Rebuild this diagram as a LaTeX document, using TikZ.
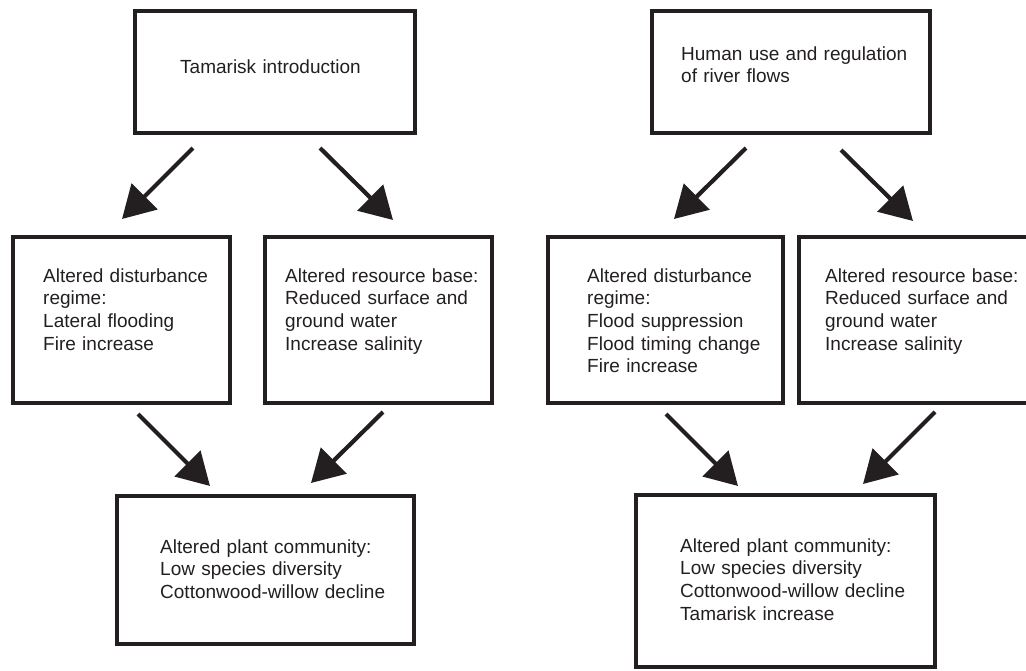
\documentclass[tikz,border=0pt]{standalone}
\usepackage{fontspec}
\setmainfont{Liberation Sans}
\usetikzlibrary{arrows.meta}
\definecolor{ink}{RGB}{35,31,32}
\begin{document}
\begin{tikzpicture}[x=1pt,y=-1pt,
  box/.style={draw=ink,line width=4pt,rectangle,inner sep=0pt},
  txt/.style={text=ink,anchor=base west,inner sep=0pt,align=left,text width=320pt,
    font=\fontsize{19}{22.7}\selectfont},
  arr/.style={draw=ink,line width=4.2pt,-{Triangle[length=32pt,width=36pt]}}]
\useasboundingbox (0,0) rectangle (1026,670);
% left diagram boxes
\node[box,minimum width=280pt,minimum height=122pt] (A) at (275,72) {};
\node[box,minimum width=217pt,minimum height=166pt] (B) at (121.5,320) {};
\node[box,minimum width=227pt,minimum height=166pt] (C) at (378.5,320) {};
\node[box,minimum width=297pt,minimum height=148pt] (D) at (265.5,570) {};
% right diagram boxes
\node[box,minimum width=278pt,minimum height=122pt] (E) at (791,72) {};
\node[box,minimum width=235pt,minimum height=166pt] (F) at (665.5,320) {};
\node[box,minimum width=241pt,minimum height=166pt] (G) at (919.5,320) {};
\node[box,minimum width=299pt,minimum height=172pt] (H) at (785.5,581) {};
% texts
\node[txt] (tA) at (180,73) {Tamarisk introduction};
\node[txt] (tB) at (43,282) {Altered disturbance\\regime:\\Lateral flooding\\Fire increase};
\node[txt] (tC) at (285,282) {Altered resource base:\\Reduced surface and\\ground water\\Increase salinity};
\node[txt] (tD) at (160,553) {Altered plant community:\\Low species diversity\\Cottonwood-willow decline};
\node[txt] (tE) at (681,60) {Human use and regulation\\of river flows};
\node[txt] (tF) at (587,282) {Altered disturbance\\regime:\\Flood suppression\\Flood timing change\\Fire increase};
\node[txt] (tG) at (825,282) {Altered resource base:\\Reduced surface and\\ground water\\Increase salinity};
\node[txt] (tH) at (680,552) {Altered plant community:\\Low species diversity\\Cottonwood-willow decline\\Tamarisk increase};
% arrow end points
\coordinate (a1s) at (193,148); \coordinate (a1e) at (122,219);
\coordinate (a2s) at (320,148); \coordinate (a2e) at (393,220);
\coordinate (a3s) at (746,148); \coordinate (a3e) at (674,219);
\coordinate (a4s) at (841,150); \coordinate (a4e) at (913,221);
\coordinate (a5s) at (138,414); \coordinate (a5e) at (210,486);
\coordinate (a6s) at (383,412); \coordinate (a6e) at (311,483);
\coordinate (a7s) at (666,414); \coordinate (a7e) at (738,486);
\coordinate (a8s) at (935,412); \coordinate (a8e) at (863,484);
\draw[arr] (a1s) -- (a1e);
\draw[arr] (a2s) -- (a2e);
\draw[arr] (a3s) -- (a3e);
\draw[arr] (a4s) -- (a4e);
\draw[arr] (a5s) -- (a5e);
\draw[arr] (a6s) -- (a6e);
\draw[arr] (a7s) -- (a7e);
\draw[arr] (a8s) -- (a8e);
\end{tikzpicture}
\end{document}
